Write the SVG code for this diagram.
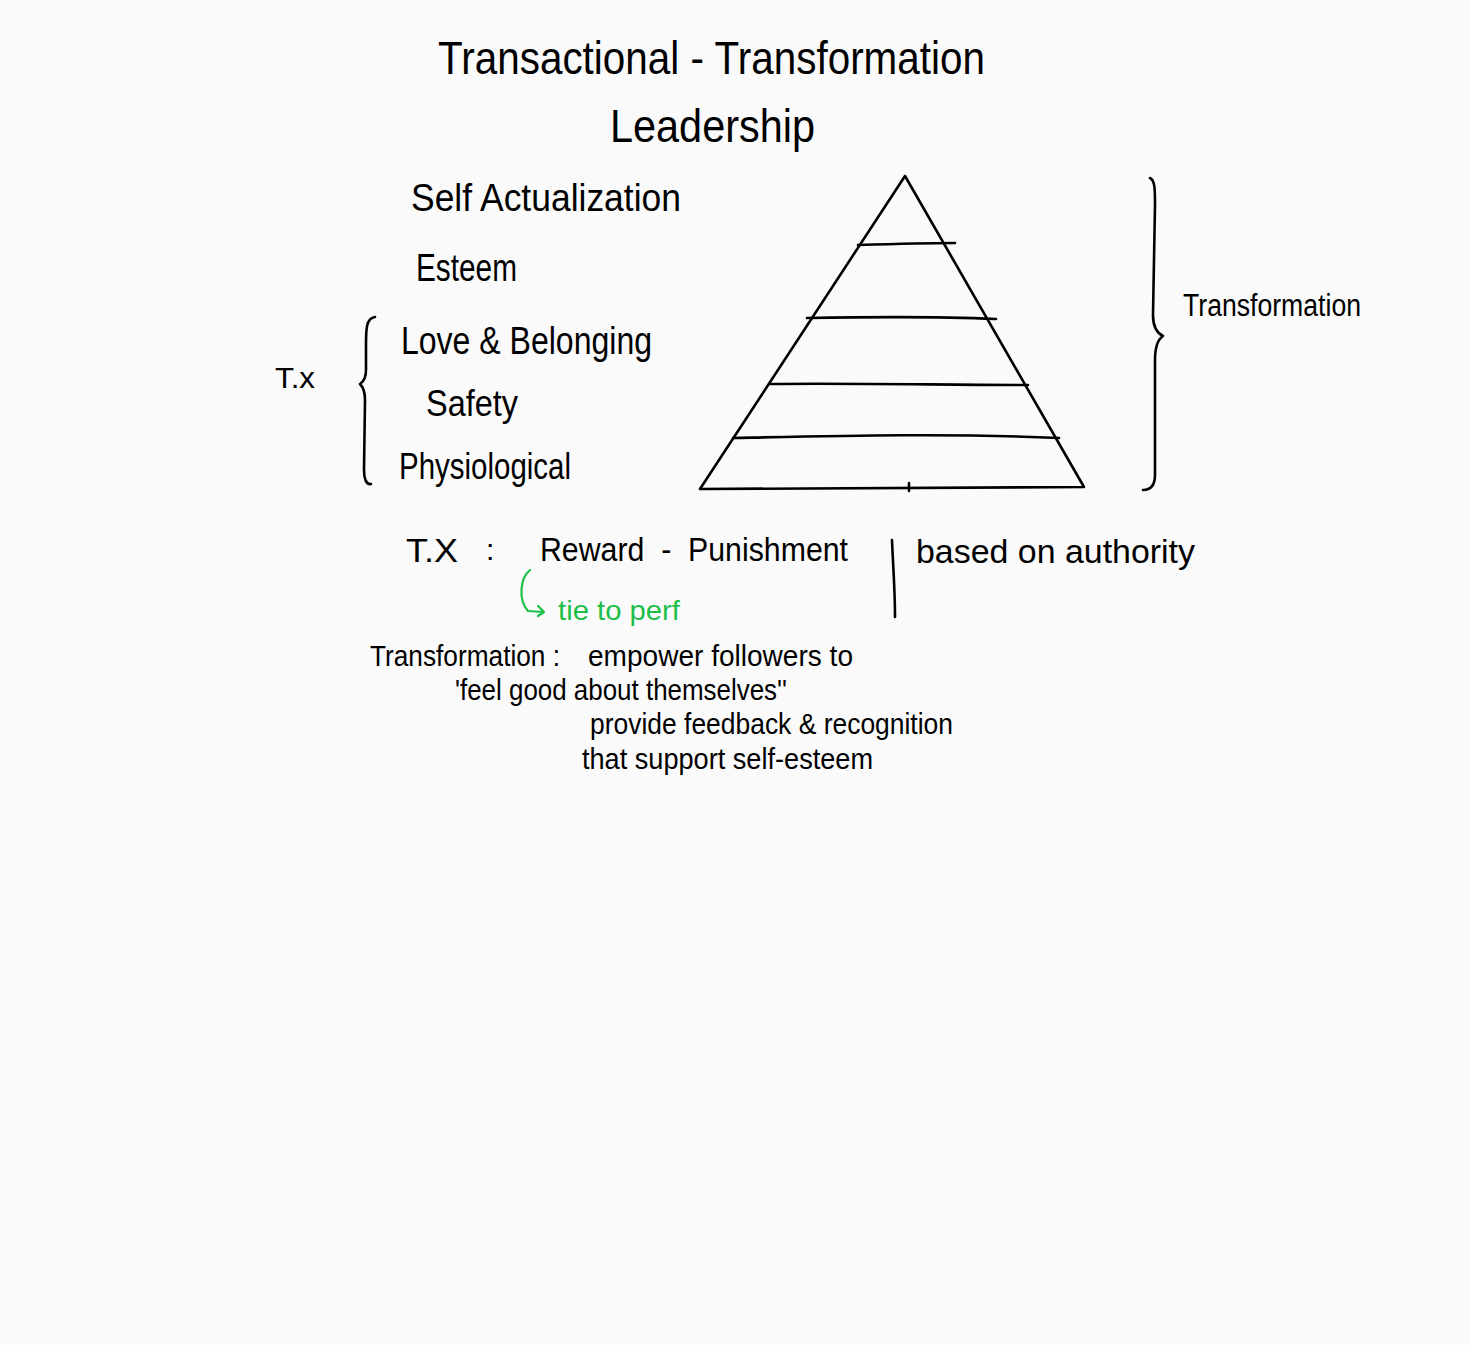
<svg xmlns="http://www.w3.org/2000/svg" width="1470" height="1345" viewBox="0 0 1470 1345">
  <style>
    .ink { fill: none; stroke: #000; stroke-width: 2.6; stroke-linecap: round; stroke-linejoin: round; }
    .t { font-family: "Liberation Sans", Arial, sans-serif; fill: #000; }
    .g { font-family: "Liberation Sans", Arial, sans-serif; fill: #1dbf49; }
  </style>
  <rect x="0" y="0" width="1470" height="1345" fill="#fafafa"/>

  <!-- title -->
  <g id="title">
    <text class="t" x="438" y="74" font-size="46" textLength="547" lengthAdjust="spacingAndGlyphs">Transactional - Transformation</text>
    <text class="t" x="610" y="142" font-size="46" textLength="205" lengthAdjust="spacingAndGlyphs">Leadership</text>
  </g>

  <!-- hierarchy labels -->
  <g id="levels">
    <text class="t" x="411" y="211" font-size="38" textLength="270" lengthAdjust="spacingAndGlyphs">Self Actualization</text>
    <text class="t" x="416" y="281" font-size="38" textLength="101" lengthAdjust="spacingAndGlyphs">Esteem</text>
    <text class="t" x="401" y="354" font-size="38" textLength="251" lengthAdjust="spacingAndGlyphs">Love &amp; Belonging</text>
    <text class="t" x="426" y="416" font-size="36" textLength="92" lengthAdjust="spacingAndGlyphs">Safety</text>
    <text class="t" x="399" y="479" font-size="36" textLength="172" lengthAdjust="spacingAndGlyphs">Physiological</text>
  </g>

  <!-- transactional bracket -->
  <g id="tx-bracket">
    <text class="t" x="275" y="388" font-size="30" textLength="40" lengthAdjust="spacingAndGlyphs">T.x</text>
    <path class="ink" d="M375,317 C366,318 366,330 366,345 L366,370 C366,378 363,382 360,384 C364,388 365,393 365,400 L364,470 C364,478 366,485 371,484"/>
  </g>

  <!-- pyramid -->
  <g id="pyramid">
    <path class="ink" d="M905,176 L700,489 L1084,487 Z"/>
    <path class="ink" d="M858,245 C890,244 925,243 955,243"/>
    <path class="ink" d="M807,318 C860,317 930,316 996,319"/>
    <path class="ink" d="M770,384 C850,383 950,385 1028,385"/>
    <path class="ink" d="M733,438 C830,436 950,433 1059,438"/>
    <path class="ink" stroke-width="1.5" d="M909,483 L909,491"/>
  </g>

  <!-- transformation bracket -->
  <g id="tf-bracket">
    <path class="ink" d="M1150,178 C1155,180 1155,190 1155,205 L1153,315 C1153,326 1157,333 1163,336 C1157,340 1155,348 1155,360 L1155,475 C1155,486 1150,490 1143,490"/>
    <text class="t" x="1183" y="316" font-size="31" textLength="178" lengthAdjust="spacingAndGlyphs">Transformation</text>
  </g>

  <!-- transactional definition -->
  <g id="tx-def">
    <text class="t" x="406" y="562" font-size="34" textLength="52" lengthAdjust="spacingAndGlyphs">T.X</text>
    <text class="t" x="486" y="560" font-size="30">:</text>
    <text class="t" x="540" y="561" font-size="34" textLength="308" lengthAdjust="spacingAndGlyphs" xml:space="preserve">Reward  -  Punishment</text>
    <path class="ink" d="M892,540 C893,565 895,590 895,617"/>
    <text class="t" x="916" y="563" font-size="34" textLength="279" lengthAdjust="spacingAndGlyphs">based on authority</text>
  </g>

  <!-- performance note -->
  <g id="perf-note">
    <path fill="none" stroke="#1dbf49" stroke-width="2.2" stroke-linecap="round" stroke-linejoin="round" d="M530,570 C520,578 518,600 528,611 L543,612 M538,606 L544,612 L538,616"/>
    <text class="g" x="558" y="620" font-size="28" textLength="122" lengthAdjust="spacingAndGlyphs">tie to perf</text>
  </g>

  <!-- transformation definition -->
  <g id="tf-def">
    <text class="t" x="370" y="666" font-size="30" textLength="190" lengthAdjust="spacingAndGlyphs">Transformation :</text>
    <text class="t" x="588" y="666" font-size="30" textLength="265" lengthAdjust="spacingAndGlyphs">empower followers to</text>
    <text class="t" x="455" y="700" font-size="30" textLength="332" lengthAdjust="spacingAndGlyphs">'feel good about themselves''</text>
    <text class="t" x="590" y="734" font-size="30" textLength="363" lengthAdjust="spacingAndGlyphs">provide feedback &amp; recognition</text>
    <text class="t" x="582" y="769" font-size="30" textLength="291" lengthAdjust="spacingAndGlyphs">that support self-esteem</text>
  </g>
</svg>
